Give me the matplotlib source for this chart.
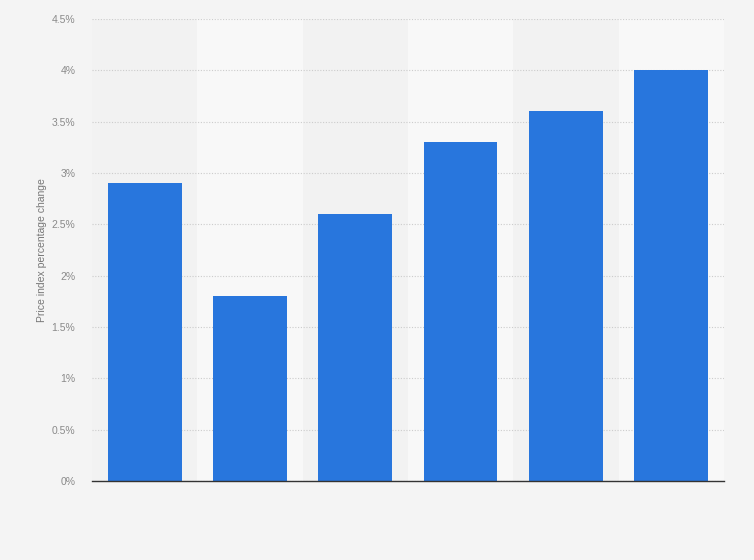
import matplotlib
matplotlib.use('Agg')
import matplotlib.pyplot as plt
from matplotlib.ticker import FuncFormatter

plt.rcParams['font.family'] = ['Liberation Sans', 'DejaVu Sans']

# values (percent)
categories = ['1', '2', '3', '4', '5', '6']
values = [2.9, 1.8, 2.6, 3.3, 3.6, 4.0]
y_ticks = [0, 0.5, 1, 1.5, 2, 2.5, 3, 3.5, 4, 4.5]

fig = plt.figure(figsize=(7.54, 5.6), dpi=100)
fig.patch.set_facecolor('#f4f4f4')
ax = fig.add_axes([0.122, 0.141, 0.838, 0.825])
ax.set_facecolor('#f2f2f2')

x = list(range(len(categories)))
# alternating column bands
for i in x:
    if i % 2 == 1:
        ax.axvspan(i - 0.5, i + 0.5, color='#f8f8f8', zorder=0, lw=0)

ax.bar(x, values, width=0.7, color='#2876dd', zorder=3)

ax.set_xlim(-0.5, len(categories) - 0.5)
ax.set_ylim(0, 4.5)
ax.set_yticks(y_ticks)

def pct(v, pos):
    return f"{v:g}%"

ax.yaxis.set_major_formatter(FuncFormatter(pct))
ax.set_xticks([])
ax.tick_params(axis='y', length=0, labelsize=7.5, labelcolor='#8a8a8a', pad=12)
ax.grid(axis='y', linestyle=(0, (1, 1.5)), color='#cccccc', linewidth=0.8, zorder=1)

for side in ['top', 'right', 'left']:
    ax.spines[side].set_visible(False)
ax.spines['bottom'].set_color('#333333')
ax.spines['bottom'].set_linewidth(1.0)
ax.spines['bottom'].set_zorder(4)

ax.set_ylabel('Price index percentage change', fontsize=7.5, color='#777777', labelpad=3)

fig.savefig('out.png', dpi=100, facecolor=fig.get_facecolor())
